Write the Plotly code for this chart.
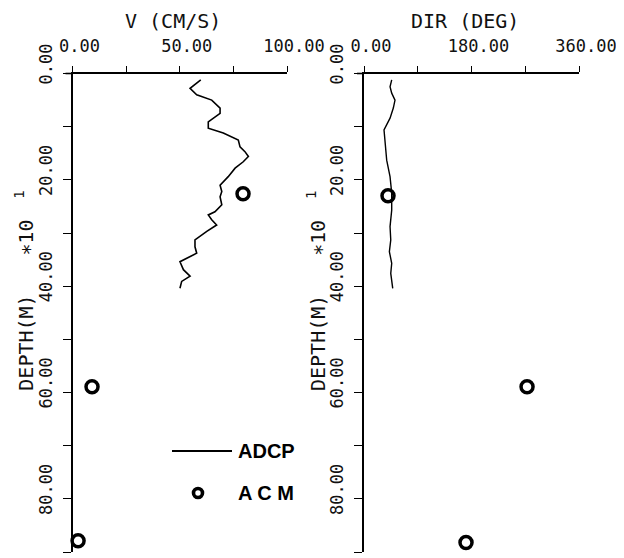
import plotly.graph_objects as go

# ---------------- data ----------------
# depth in units of 10 m (axis label "DEPTH(M) *10^1")
adcp_depth = [1.2, 2.8, 4.0, 5.0, 6.5, 7.5, 9.1, 10.3, 11.2, 12.5, 13.8, 14.7, 15.6,
              16.6, 17.8, 19.4, 21.0, 22.2, 23.2, 24.7, 26.0, 26.6, 27.5, 28.5, 29.7,
              31.3, 32.6, 33.8, 35.4, 36.9, 38.1, 39.1, 40.4]
adcp_speed = [59.8, 54.8, 57.9, 64.9, 68.8, 68.8, 63.3, 63.3, 70.3, 77.3, 78.1, 80.4, 82.0,
              79.6, 75.8, 72.6, 68.8, 69.6, 68.8, 69.6, 66.4, 63.3, 64.9, 67.2, 62.6,
              57.1, 57.1, 57.9, 50.1, 51.7, 54.8, 50.9, 50.1]

adcp_dir_depth = [1.2, 2.5, 3.7, 5.0, 6.5, 8.4, 10.6, 13.1, 16.3, 19.4, 22.5, 25.7,
                  28.8, 31.3, 33.5, 35.7, 37.6, 40.4]
adcp_dir = [46.4, 43.6, 46.4, 51.9, 49.1, 43.6, 33.5, 35.2, 38.0, 43.6, 46.4, 46.4,
            43.6, 44.8, 42.5, 46.4, 44.8, 48.1]

acm_depth = [22.6, 58.9, 87.9]
acm_speed = [79.5, 9.1, 2.6]
acm_dir_depth = [23.0, 58.9, 88.2]
acm_dir = [40.2, 273.0, 170.8]

v_ticks = [0, 25, 50, 75, 100]
v_ticktext = ["0.00", "", "50.00", "", "100.00"]
dir_ticks = [0, 90, 180, 270, 360]
dir_ticktext = ["0.00", "", "180.00", "", "360.00"]
depth_ticks = [0, 10, 20, 30, 40, 50, 60, 70, 80, 90]
depth_ticktext = ["0.00", "", "20.00", "", "40.00", "", "60.00", "", "80.00", ""]

# ---------------- layout helpers ----------------
# the page body has an 8px margin, so the figure starts at (8, 8)
OFF = 8
W, H = 624 - OFF, 558 - OFF
def px(x):
    return (x - OFF) / W
def py(y):
    return 1 - (y - OFF) / H

MONO = "DejaVu Sans Mono"
INK = "#111111"

fig = go.Figure()

fig.add_trace(go.Scatter(x=adcp_speed, y=adcp_depth, mode="lines",
                         line=dict(color="black", width=1.6),
                         xaxis="x", yaxis="y", showlegend=False, cliponaxis=False))
fig.add_trace(go.Scatter(x=acm_speed, y=acm_depth, mode="markers",
                         marker=dict(symbol="circle-open", size=12, color="black",
                                     line=dict(width=3.5, color="black")),
                         xaxis="x", yaxis="y", showlegend=False, cliponaxis=False))
fig.add_trace(go.Scatter(x=adcp_dir, y=adcp_dir_depth, mode="lines",
                         line=dict(color="black", width=1.4),
                         xaxis="x2", yaxis="y2", showlegend=False, cliponaxis=False))
fig.add_trace(go.Scatter(x=acm_dir, y=acm_dir_depth, mode="markers",
                         marker=dict(symbol="circle-open", size=12, color="black",
                                     line=dict(width=3.5, color="black")),
                         xaxis="x2", yaxis="y2", showlegend=False, cliponaxis=False))

ydom = [max(py(552), 0), py(73.5)]
common_x = dict(side="top", showline=True, linecolor="black", linewidth=1.6,
                ticks="outside", ticklen=6, tickwidth=1.4, tickcolor="black",
                showgrid=False, zeroline=False, automargin=False,
                tickfont=dict(family=MONO, size=17, color=INK),
                ticklabelshift=7, ticklabelstandoff=7)
common_y = dict(showline=True, linecolor="black", linewidth=1.6,
                ticks="outside", ticklen=8, tickwidth=1.4, tickcolor="black",
                showgrid=False, zeroline=False, range=[90, 0], domain=ydom,
                automargin=False,
                tickvals=depth_ticks, ticktext=depth_ticktext, tickangle=-90,
                tickfont=dict(family=MONO, size=17, color=INK),
                ticklabelshift=7, ticklabelstandoff=4)

fig.update_layout(
    width=W, height=H, margin=dict(l=0, r=0, t=0, b=0, autoexpand=False),
    paper_bgcolor="white", plot_bgcolor="white",
    xaxis=dict(domain=[px(72.5), px(287)], range=[0, 100], anchor="y",
               tickvals=v_ticks, ticktext=v_ticktext, **common_x),
    yaxis=dict(anchor="x", **common_y),
    xaxis2=dict(domain=[px(364), px(579)], range=[0, 360], anchor="y2",
                tickvals=dir_ticks, ticktext=dir_ticktext, **common_x),
    yaxis2=dict(anchor="x2", **common_y),
)

def note(text, x, y, size=20, angle=0, xanchor="center", family=MONO, color=INK):
    return dict(text=text, x=px(x), y=py(y), xref="paper", yref="paper",
                xanchor=xanchor, yanchor="middle", textangle=angle,
                showarrow=False, font=dict(family=family, size=size, color=color))

ann = []
# axis titles
ann.append(note("V (CM/S)", 173, 21))
ann.append(note("DIR (DEG)", 465, 21))
for axx in (72.7, 365):
    ann.append(note("DEPTH(M)", axx - 47, 343, angle=-90))
    ann.append(note("\u221710", axx - 47, 238, angle=-90))
    ann.append(note("1", axx - 54, 195, size=14, angle=-90))
# legend texts
ann.append(note("<b>ADCP</b>", 236, 451, xanchor="left",
                family="Liberation Sans", color="black"))
ann.append(note("<b>A C M</b>", 236, 493, xanchor="left",
                family="Liberation Sans", color="black"))
fig.update_layout(annotations=ann)

# top axis lines extend a little to the left of the depth axes
for axx in (72.5, 364):
    fig.add_shape(type="line", xref="paper", yref="paper",
                  x0=px(axx - 7), x1=px(axx), y0=py(73.5), y1=py(73.5),
                  line=dict(color="black", width=1.6))

# legend glyphs
fig.add_shape(type="line", xref="paper", yref="paper",
              x0=px(172), x1=px(232), y0=py(451), y1=py(451),
              line=dict(color="black", width=2.2))
fig.add_shape(type="circle", xref="paper", yref="paper",
              xsizemode="pixel", ysizemode="pixel",
              xanchor=px(198), yanchor=py(493),
              x0=-4.5, x1=4.5, y0=-4.5, y1=4.5,
              line=dict(color="black", width=3.6))

fig.write_html("out.html")
